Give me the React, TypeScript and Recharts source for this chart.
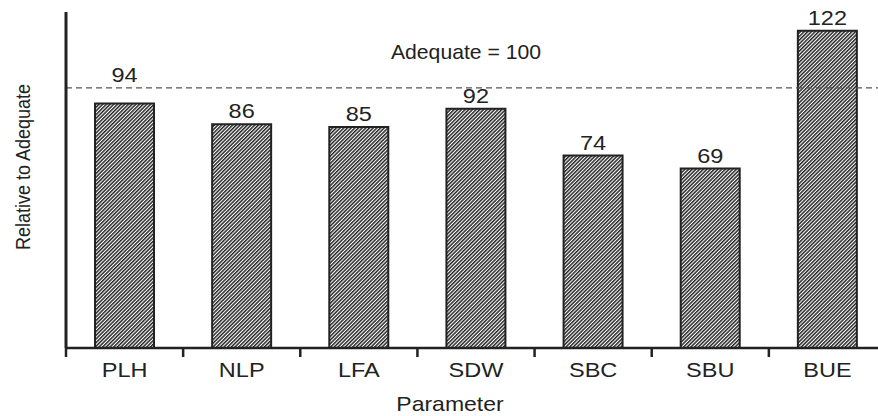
import { BarChart, Bar, XAxis, YAxis, ReferenceLine, LabelList } from 'recharts'

const categories = ['PLH', 'NLP', 'LFA', 'SDW', 'SBC', 'SBU', 'BUE']
const values = [94, 86, 85, 92, 74, 69, 122]
const adequate = 100
const yMax = 129.2

const W = 886
const H = 416
const Y_AXIS_W = 66
const margin = { top: 12, right: 0, bottom: 8, left: 0 }
const X_AXIS_H = 60
const plotBottom = H - margin.bottom - X_AXIS_H
const plotH = plotBottom - margin.top
const band = (W - Y_AXIS_W - margin.right) / categories.length
const FONT = '"Liberation Sans", Arial, Helvetica, sans-serif'
const INK = '#222'
const STRETCH = 1.12

const data = categories.map((name, i) => ({ name, value: values[i] }))

const yPx = (v: number) => plotBottom - (v / yMax) * plotH

function CategoryTick({ x, payload }: any) {
  const left = x - band / 2
  return (
    <g>
      <line x1={left} x2={left} y1={plotBottom} y2={plotBottom + 9} stroke={INK} strokeWidth={2.5} />
      <text
        transform={`translate(${x},${plotBottom + 29}) scale(${STRETCH},1)`}
        textAnchor="middle"
        fontSize={21}
        fill={INK}
        fontFamily={FONT}
      >
        {payload.value}
      </text>
    </g>
  )
}

function ValueLabel({ x, y, width, value }: any) {
  const lineY = yPx(adequate)
  let base = y - 6
  // lift labels that would sit on the dashed line above it
  if (y > lineY && base - 15 < lineY - 2) base = lineY - 6
  return (
    <text
      transform={`translate(${x + width / 2},${base}) scale(${STRETCH},1)`}
      textAnchor="middle"
      fontSize={21}
      fill={INK}
      fontFamily={FONT}
    >
      {value}
    </text>
  )
}

function AdequateLabel({ viewBox }: any) {
  const cx = viewBox.x + viewBox.width / 2 - 10
  return (
    <text
      transform={`translate(${cx},${viewBox.y - 29}) scale(1.06,1)`}
      textAnchor="middle"
      fontSize={20}
      fill={INK}
      fontFamily={FONT}
    >
      Adequate = 100
    </text>
  )
}

function ParamLabel({ viewBox }: any) {
  const cx = viewBox.x + viewBox.width / 2 - 26
  return (
    <text
      transform={`translate(${cx},${plotBottom + 63}) scale(1.15,1)`}
      textAnchor="middle"
      fontSize={20}
      fill={INK}
      fontFamily={FONT}
    >
      Parameter
    </text>
  )
}

function YLabel() {
  const cy = (margin.top + plotBottom) / 2 - 13
  return (
    <text
      transform={`translate(23,${cy}) rotate(-90) scale(1,1.1)`}
      textAnchor="middle"
      dominantBaseline="central"
      fontSize={18}
      fill={INK}
      fontFamily={FONT}
    >
      Relative to Adequate
    </text>
  )
}

export default function App() {
  return (
    <div style={{ position: 'fixed', left: 0, top: 0, width: 878, height: 416, overflow: 'hidden', background: '#fff' }}>
      <BarChart width={W} height={H} data={data} margin={margin}>
        <defs>
          <pattern id="hatch" patternUnits="userSpaceOnUse" width={2.6} height={10} patternTransform="rotate(45)">
            <rect x={0} y={0} width={2.6} height={10} fill="#fff" />
            <rect x={0} y={0} width={1.5} height={10} fill="#262626" />
          </pattern>
        </defs>
        <XAxis
          dataKey="name"
          height={X_AXIS_H}
          interval={0}
          tickLine={false}
          axisLine={{ stroke: INK, strokeWidth: 2.5 }}
          tick={<CategoryTick />}
          label={<ParamLabel />}
        />
        <YAxis
          width={Y_AXIS_W}
          domain={[0, yMax]}
          tick={false}
          tickLine={false}
          axisLine={{ stroke: INK, strokeWidth: 3 }}
          label={<YLabel />}
        />
        <ReferenceLine
          y={adequate}
          stroke="#555"
          strokeWidth={1.2}
          strokeDasharray="6 4"
          label={<AdequateLabel />}
        />
        <Bar dataKey="value" barSize={59} fill="url(#hatch)" stroke={INK} strokeWidth={2} isAnimationActive={false}>
          <LabelList dataKey="value" content={<ValueLabel />} />
        </Bar>
      </BarChart>
    </div>
  )
}
